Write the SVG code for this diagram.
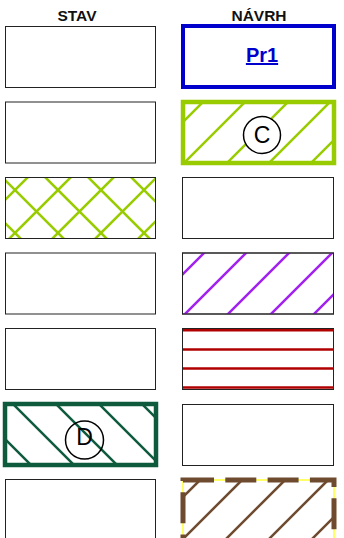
<svg xmlns="http://www.w3.org/2000/svg" width="344" height="538" viewBox="0 0 344 538">
<style>
.hdr{font-family:"Liberation Sans",Arial,sans-serif;font-weight:bold;font-size:15.5px;fill:#111;text-anchor:middle}
.box{fill:#fff;stroke:#222;stroke-width:1}
.lbl{font-family:"Liberation Sans",Arial,sans-serif;font-size:23px;fill:#000;text-anchor:middle}
.lime{stroke:#99cc00}
.h{stroke-width:2.5;fill:none}
</style>
<defs>
<clipPath id="c3"><rect x="5.5" y="177.5" width="150" height="61"/></clipPath>
<clipPath id="cC"><rect x="183" y="102" width="151" height="61"/></clipPath>
<clipPath id="cP"><rect x="182.5" y="253" width="151" height="61"/></clipPath>
<clipPath id="cD"><rect x="5" y="404" width="151" height="61"/></clipPath>
<clipPath id="cB"><rect x="183" y="480" width="151" height="61"/></clipPath>
</defs>
<rect width="344" height="538" fill="#fff"/>
<text class="hdr" x="77" y="20.5">STAV</text>
<text class="hdr" x="259" y="20.5">NÁVRH</text>

<g id="stav1"><rect class="box" x="5.5" y="26.5" width="150" height="61"/></g>
<g id="stav2"><rect class="box" x="5.5" y="102" width="150" height="61"/></g>
<g id="stav3">
<rect class="box" x="5.5" y="177.5" width="150" height="61"/>
<g clip-path="url(#c3)" class="h lime">
<line x1="-34" y1="239" x2="28" y2="177"/>
<line x1="9" y1="239" x2="71" y2="177"/>
<line x1="52" y1="239" x2="114" y2="177"/>
<line x1="95" y1="239" x2="157" y2="177"/>
<line x1="138" y1="239" x2="200" y2="177"/>
<line x1="131" y1="177" x2="193" y2="239"/>
<line x1="88" y1="177" x2="150" y2="239"/>
<line x1="45" y1="177" x2="107" y2="239"/>
<line x1="2" y1="177" x2="64" y2="239"/>
<line x1="-41" y1="177" x2="21" y2="239"/>
</g>
<rect x="5.5" y="177.5" width="150" height="61" fill="none" stroke="#222" stroke-width="1"/>
</g>
<g id="stav4"><rect class="box" x="5.5" y="253" width="150" height="61"/></g>
<g id="stav5"><rect class="box" x="5.5" y="328.5" width="150" height="61"/></g>
<g id="stav6">
<rect x="5" y="404" width="151" height="61" fill="#fff"/>
<g clip-path="url(#cD)" class="h" stroke="#0e5a3c">
<line x1="141" y1="403" x2="204" y2="466"/>
<line x1="98" y1="403" x2="161" y2="466"/>
<line x1="55" y1="403" x2="118" y2="466"/>
<line x1="12" y1="403" x2="75" y2="466"/>
<line x1="-31" y1="403" x2="32" y2="466"/>
</g>
<rect x="5" y="404" width="151" height="61" fill="none" stroke="#0e5a3c" stroke-width="4.5"/>
<circle cx="84.5" cy="440" r="19" fill="none" stroke="#000" stroke-width="1.5"/>
<text class="lbl" x="84.5" y="445">D</text>
</g>
<g id="stav7"><rect class="box" x="5.5" y="479.5" width="150" height="70"/></g>

<g id="navrh1">
<rect x="183" y="26" width="151" height="61" fill="#fff" stroke="#0000cc" stroke-width="4"/>
<text x="262" y="62" font-family="'Liberation Sans',Arial,sans-serif" font-weight="bold" font-size="20" fill="#0000cc" text-anchor="middle" text-decoration="underline">Pr1</text>
</g>
<g id="navrh2">
<rect x="183" y="102" width="151" height="61" fill="#fff"/>
<g clip-path="url(#cC)" class="h lime">
<line x1="141" y1="164" x2="204" y2="101"/>
<line x1="183" y1="164" x2="246" y2="101"/>
<line x1="226" y1="164" x2="289" y2="101"/>
<line x1="268" y1="164" x2="331" y2="101"/>
<line x1="310" y1="164" x2="373" y2="101"/>
</g>
<rect x="183" y="102" width="151" height="61" fill="none" stroke="#99cc00" stroke-width="4.5"/>
<circle cx="262" cy="135" r="18.5" fill="#fff" stroke="#000" stroke-width="1.5"/>
<text class="lbl" x="262" y="142.5">C</text>
</g>
<g id="navrh3"><rect class="box" x="182.5" y="177.5" width="151" height="61"/></g>
<g id="navrh4">
<rect class="box" x="182.5" y="253" width="151" height="61"/>
<g clip-path="url(#cP)" class="h" stroke="#a020f0">
<line x1="142" y1="315" x2="205" y2="252"/>
<line x1="184" y1="315" x2="247" y2="252"/>
<line x1="227" y1="315" x2="290" y2="252"/>
<line x1="270" y1="315" x2="333" y2="252"/>
<line x1="313" y1="315" x2="376" y2="252"/>
</g>
<rect x="182.5" y="253" width="151" height="61" fill="none" stroke="#222" stroke-width="1"/>
</g>
<g id="navrh5">
<rect class="box" x="182.5" y="328.5" width="151" height="61"/>
<g stroke="#b00000" stroke-width="2.5">
<line x1="183" y1="330.3" x2="334" y2="330.3"/>
<line x1="183" y1="349.5" x2="334" y2="349.5"/>
<line x1="183" y1="368.5" x2="334" y2="368.5"/>
<line x1="183" y1="387.6" x2="334" y2="387.6"/>
</g>
</g>
<g id="navrh6"><rect class="box" x="182.5" y="404.5" width="151" height="61"/></g>
<g id="navrh7">
<rect x="183" y="480" width="151" height="61" fill="#fff"/>
<g clip-path="url(#cB)" class="h" stroke="#6e4a2e">
<line x1="139" y1="541" x2="200" y2="480"/>
<line x1="181" y1="541" x2="242" y2="480"/>
<line x1="224" y1="541" x2="285" y2="480"/>
<line x1="267" y1="541" x2="328" y2="480"/>
<line x1="310" y1="541" x2="371" y2="480"/>
</g>
<rect x="183" y="480" width="151" height="61" fill="none" stroke="#ffff00" stroke-width="1.2"/>
<rect x="183" y="480" width="151" height="61" fill="none" stroke="#6e4a2e" stroke-width="5" stroke-dasharray="31 11.3"/>
</g>
</svg>
